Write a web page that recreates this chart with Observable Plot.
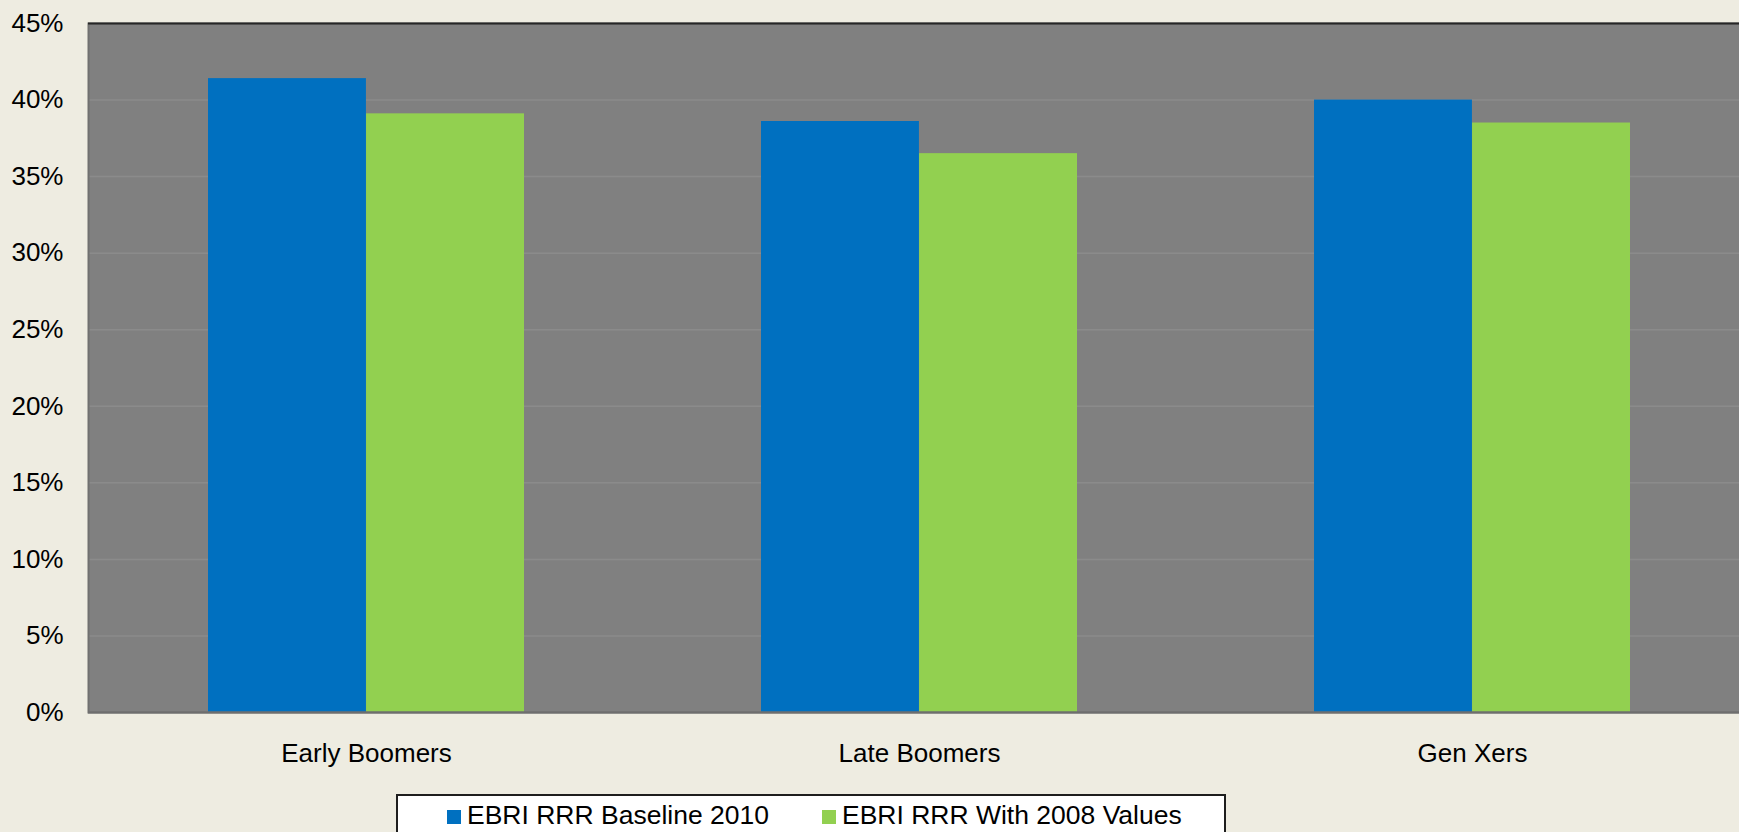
<!DOCTYPE html>
<html>
<head>
<meta charset="utf-8">
<script src="https://cdn.jsdelivr.net/npm/d3@7"></script>
<script src="https://cdn.jsdelivr.net/npm/@observablehq/plot@0.6"></script>
<style>
  html, body { margin: 0; padding: 0; background: #EEECE1; overflow: hidden; }
  #chart svg { display: block; max-width: none; }
  .legend {
    box-sizing: border-box;
    margin-left: 396px;
    margin-top: 4px;
    width: 830px;
    height: 60px;
    background: #fff;
    border: 2px solid #1e1e1e;
    display: flex;
    align-items: flex-start;
    padding-left: 49px;
    padding-top: 4px;
    font-family: Arial, "Liberation Sans", sans-serif;
    font-size: 26.5px;
    color: #000;
  }
  .legend .item { display: flex; align-items: center; margin-right: 53px; white-space: nowrap; }
  .legend .swatch { width: 14px; height: 14px; margin-right: 6px; margin-top: 2px; }
</style>
</head>
<body>
<div id="chart"></div>
<div class="legend" id="legend"></div>
<script>
// Retirement readiness ratings by cohort, two scenarios
const categories = ["Early Boomers", "Late Boomers", "Gen Xers"];
const seriesNames = ["EBRI RRR Baseline 2010", "EBRI RRR With 2008 Values"];
const baseline2010 = [41.4, 38.6, 40.0];
const with2008Values = [39.1, 36.5, 38.5];
const seriesColors = ["#0070C0", "#92D050"];
const yTicks = [0, 5, 10, 15, 20, 25, 30, 35, 40, 45];

const baselineData = categories.map((category, i) => ({category, series: seriesNames[0], value: baseline2010[i]}));
const with2008Data = categories.map((category, i) => ({category, series: seriesNames[1], value: with2008Values[i]}));

const width = 1749;
const marginLeft = 88;
const marginRight = 0;

// Category band holds both bars side by side; each bar takes half of it
const xOptions = {
  type: "band",
  domain: categories,
  range: [marginLeft, width - marginRight],
  paddingInner: 0.429,
  paddingOuter: 0.2145
};
const half = Plot.scale({x: xOptions}).bandwidth / 2;

const chart = Plot.plot({
  width,
  height: 790,
  marginLeft,
  marginRight,
  marginTop: 23,
  marginBottom: 78,
  style: {
    background: "#EEECE1",
    fontFamily: "Arial, 'Liberation Sans', sans-serif",
    fontSize: "26px",
    color: "#000",
    maxWidth: "none"
  },
  x: {
    ...xOptions,
    label: null,
    tickSize: 0,
    tickPadding: 31
  },
  y: {
    domain: [0, 45],
    ticks: yTicks,
    tickFormat: d => d + "%",
    tickSize: 0,
    tickPadding: 25,
    label: null
  },
  color: {domain: seriesNames, range: seriesColors},
  marks: [
    Plot.frame({fill: "#808080"}),
    Plot.gridY(yTicks.slice(1, -1), {stroke: "#8b8b8b", strokeOpacity: 1, strokeWidth: 1.5}),
    Plot.barY(baselineData, {x: "category", y: "value", fill: "series", insetLeft: 0, insetRight: half}),
    Plot.barY(with2008Data, {x: "category", y: "value", fill: "series", insetLeft: half, insetRight: 0}),
    Plot.frame({stroke: "#707070", strokeWidth: 2}),
    Plot.ruleY([0], {stroke: "#6e6e6e", strokeWidth: 2}),
    Plot.ruleY([45], {stroke: "#262626", strokeWidth: 2})
  ]
});
document.getElementById("chart").append(chart);

// Legend below the chart
const legend = d3.select("#legend");
seriesNames.forEach((name, i) => {
  const item = legend.append("div").attr("class", "item");
  item.append("div").attr("class", "swatch").style("background", seriesColors[i]);
  item.append("span").text(name);
});
</script>
</body>
</html>
